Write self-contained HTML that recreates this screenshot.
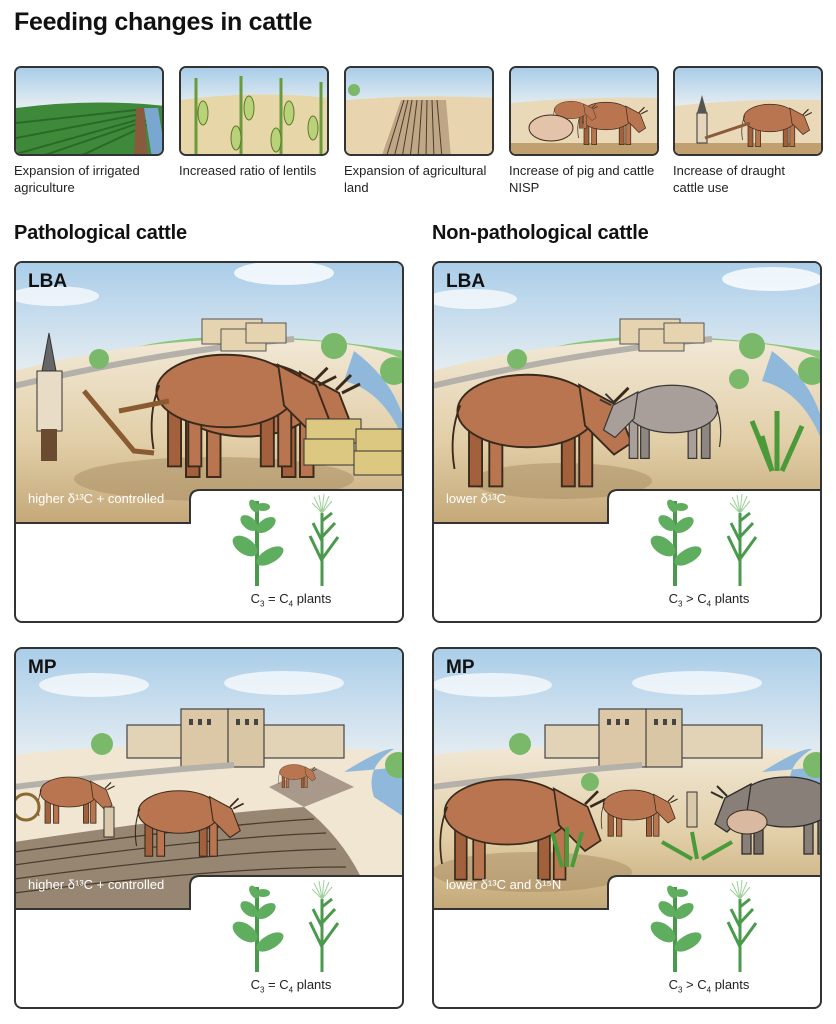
<!DOCTYPE html>
<html><head><meta charset="utf-8">
<style>
*{margin:0;padding:0;box-sizing:border-box}
body{width:836px;height:1024px;background:#fff;position:relative;font-family:"Liberation Sans",sans-serif;overflow:hidden;color:#111}
.abs{position:absolute}
h1{position:absolute;left:14px;top:8px;font-size:25px;font-weight:bold;letter-spacing:-0.3px}
h2{position:absolute;font-size:20px;font-weight:bold;top:222px;letter-spacing:-0.2px}
.th{position:absolute;top:66px;width:150px;height:90px;border:2px solid #333;border-radius:7px;overflow:hidden}
.cap{position:absolute;top:162px;font-size:13px;line-height:17px;color:#222;width:160px}
.pn{position:absolute;width:390px;border:2px solid #333;border-radius:8px;overflow:hidden;background:#fff}
.lab{position:absolute;left:12px;top:8px;font-size:19px;font-weight:bold}
.ml{position:absolute;left:12px;font-size:13px;color:#fff}
.pl{position:absolute;left:210px;width:130px;text-align:center;font-size:13px;color:#222}
.pl sub{font-size:8px}
</style></head><body>
<svg width="0" height="0" style="position:absolute">
<defs>
<linearGradient id="sky" x1="0" y1="0" x2="0" y2="1"><stop offset="0" stop-color="#a9cde9"/><stop offset="0.4" stop-color="#e2ebf1"/><stop offset="1" stop-color="#f2f2ee"/></linearGradient>
<linearGradient id="gr" x1="0" y1="0" x2="0" y2="1"><stop offset="0" stop-color="#f1e8d6"/><stop offset="0.55" stop-color="#e2cfa8"/><stop offset="1" stop-color="#c4a878"/></linearGradient>
<g id="cow" stroke="#3a2a1c" stroke-width="1.3">
<rect x="-40" y="6" width="9" height="46" fill="#a2613c"/><rect x="-26" y="6" width="9" height="46" fill="#b87550"/>
<rect x="24" y="6" width="9" height="46" fill="#a2613c"/><rect x="36" y="6" width="9" height="46" fill="#b87550"/>
<ellipse cx="0" cy="0" rx="48" ry="25" fill="#b87550"/>
<path d="M36,-18 L62,-4 L72,22 L60,30 L40,10Z" fill="#b87550"/>
<path d="M60,-6 l10,-10 M64,-4 l12,-6" stroke-width="2"/>
<path d="M-46,-4 q-8,20 -4,44" fill="none"/>
</g>
<g id="c3" stroke="none">
<rect x="-2" y="0" width="4" height="85" fill="#4a9a4c"/>
<ellipse cx="-12" cy="45" rx="14" ry="8" fill="#5fae5f" transform="rotate(35 -12 45)"/>
<ellipse cx="13" cy="55" rx="15" ry="7" fill="#5fae5f" transform="rotate(-30 13 55)"/>
<ellipse cx="-8" cy="22" rx="10" ry="6" fill="#5fae5f" transform="rotate(40 -8 22)"/>
<ellipse cx="9" cy="24" rx="11" ry="6" fill="#5fae5f" transform="rotate(-35 9 24)"/>
<ellipse cx="-3" cy="5" rx="7" ry="4" fill="#5fae5f" transform="rotate(60 -3 5)"/>
<ellipse cx="6" cy="6" rx="7" ry="4" fill="#5fae5f"/>
</g>
<g id="c4" stroke="#4a9a4c" fill="none">
<path d="M0,85 V12" stroke-width="3"/>
<path d="M0,60 L-12,35 M0,58 L16,36 M0,40 L-9,22 M0,36 L13,22 M0,20 L10,12" stroke-width="3"/>
<path d="M0,12 L-8,-4 M0,12 L-3,-6 M0,12 L2,-7 M0,12 L7,-5 M0,12 L10,0 M0,12 L-10,2" stroke="#9ccf9a" stroke-width="1"/>
</g>
</defs></svg>

<h1>Feeding changes in cattle</h1>

<div class="th" style="left:14px"><svg width="150" height="90"><rect width="150" height="90" fill="url(#sky)"/><path d="M0,40 Q75,30 150,38 V90 H0Z" fill="#3f8a3a"/><g stroke="#2a6a28" stroke-width="2"><path d="M0,55 L120,42 M0,70 L125,46 M0,86 L128,50 M20,90 L132,52 M60,90 L135,55"/></g><path d="M128,40 L142,40 L150,90 L136,90Z" fill="#7aa7cf"/><path d="M120,40 L128,40 L132,90 L118,90Z" fill="#8a5a3c"/></svg></div>
<div class="th" style="left:179px"><svg width="150" height="90"><rect width="150" height="90" fill="url(#sky)"/><path d="M0,32 Q75,22 150,30 V90 H0Z" fill="#e7d6a8"/><g stroke="#6a9a3a" stroke-width="3" fill="none"><path d="M15,90 V10 M60,90 V8 M100,90 V10 M140,90 V14"/></g><g fill="#b9d27a" stroke="#5a7a2a"><ellipse cx="22" cy="45" rx="5" ry="12"/><ellipse cx="68" cy="40" rx="5" ry="12"/><ellipse cx="55" cy="70" rx="5" ry="12"/><ellipse cx="108" cy="45" rx="5" ry="12"/><ellipse cx="95" cy="72" rx="5" ry="12"/><ellipse cx="132" cy="60" rx="5" ry="12"/></g></svg></div>
<div class="th" style="left:344px"><svg width="150" height="90"><rect width="150" height="90" fill="url(#sky)"/><path d="M0,32 Q75,26 150,30 V90 H0Z" fill="#e8d4ae"/><path d="M35,90 L55,32 L100,32 L105,90Z" fill="#bfa684"/><g stroke="#4a3a30" stroke-width="1"><path d="M40,90 L58,32 M48,90 L62,32 M56,90 L66,32 M64,90 L71,32 M72,90 L76,32 M80,90 L81,32 M88,90 L86,32 M96,90 L91,32"/></g><circle cx="8" cy="22" r="6" fill="#7cb86a"/></svg></div>
<div class="th" style="left:509px"><svg width="150" height="90"><rect width="150" height="90" fill="url(#sky)"/><path d="M0,35 Q75,28 150,30 V90 H0Z" fill="#ead9b8"/><rect y="75" width="150" height="15" fill="#c0a06e"/><use href="#cow" transform="translate(95,48) scale(0.55)"/><use href="#cow" transform="translate(60,42) scale(0.35)"/><ellipse cx="40" cy="60" rx="22" ry="13" fill="#e3c3aa" stroke="#3a2a1c"/></svg></div>
<div class="th" style="left:673px"><svg width="150" height="90"><rect width="150" height="90" fill="url(#sky)"/><path d="M0,38 Q75,30 150,32 V90 H0Z" fill="#ead9b8"/><rect y="75" width="150" height="15" fill="#c0a06e"/><use href="#cow" transform="translate(95,50) scale(0.55)"/><rect x="22" y="45" width="10" height="30" fill="#e5d5bb" stroke="#333"/><path d="M22,45 l5,-18 l5,18Z" fill="#555"/><path d="M30,70 L75,55" stroke="#8a5a3a" stroke-width="3"/></svg></div>

<div class="cap" style="left:14px">Expansion of irrigated<br>agriculture</div>
<div class="cap" style="left:179px">Increased ratio of lentils</div>
<div class="cap" style="left:344px">Expansion of agricultural<br>land</div>
<div class="cap" style="left:509px">Increase of pig and cattle<br>NISP</div>
<div class="cap" style="left:673px">Increase of draught<br>cattle use</div>

<h2 style="left:14px">Pathological cattle</h2>
<h2 style="left:432px">Non-pathological cattle</h2>

<div class="pn" style="left:14px;top:261px;height:362px">
<svg width="390" height="362" class="abs" style="left:-2px;top:-2px">
<clipPath id="k1"><path d="M0,0H390V229H186q-10,0 -10,10V262H0Z"/></clipPath>
<g clip-path="url(#k1)">
<rect width="390" height="262" fill="url(#sky)"/>
<ellipse cx="270" cy="12" rx="50" ry="12" fill="#fff" opacity=".8"/><ellipse cx="40" cy="35" rx="45" ry="10" fill="#fff" opacity=".7"/>
<path d="M100,92 Q200,60 390,90 V120 H100Z" fill="#8cc67e"/>
<path d="M0,110 Q150,70 300,80 Q370,85 390,100 V262 H0Z" fill="url(#gr)"/>
<path d="M0,125 Q150,90 280,78" stroke="#b4b0aa" stroke-width="6" fill="none"/>
<path d="M340,90 Q380,120 390,160 V180 Q370,130 330,120Z" fill="#8fb8da"/>
<g fill="#e6d3b0" stroke="#555"><rect x="188" y="58" width="60" height="25"/><rect x="207" y="68" width="45" height="22"/><rect x="232" y="62" width="40" height="20"/></g>
<circle cx="320" cy="85" r="13" fill="#7ab96a"/><circle cx="85" cy="98" r="10" fill="#7ab96a"/><circle cx="380" cy="110" r="14" fill="#7ab96a"/>
<ellipse cx="200" cy="218" rx="140" ry="22" fill="#a88b62" opacity=".5"/>
<use href="#cow" transform="translate(232,138) scale(1.5)"/>
<use href="#cow" transform="translate(212,130) scale(1.45)"/>
<g fill="#dcc880" stroke="#333"><rect x="292" y="158" width="55" height="24"/><rect x="342" y="168" width="46" height="28"/><rect x="290" y="178" width="50" height="26"/><rect x="340" y="190" width="48" height="24"/></g>
<path d="M70,130 L120,190 L140,192 M105,150 L155,140" stroke="#8a5a30" stroke-width="5" fill="none"/>
<rect x="23" y="110" width="25" height="60" fill="#e8dcc6" stroke="#333"/><path d="M28,110 L35,72 L42,110Z" fill="#666" stroke="#333"/><rect x="27" y="168" width="16" height="32" fill="#6a4a30"/>
</g>
<path d="M0,0H390V229H186q-10,0 -10,10V262H0Z" fill="none" stroke="#333" stroke-width="2"/>
<use href="#c3" transform="translate(243,240)"/><use href="#c4" transform="translate(308,240)"/>
</svg>
<div class="lab">LBA</div>
<div class="ml" style="top:228px">higher δ¹³C + controlled</div>
<div class="pl" style="top:328px">C<sub>3</sub> = C<sub>4</sub> plants</div>
</div>

<div class="pn" style="left:432px;top:261px;height:362px">
<svg width="390" height="362" class="abs" style="left:-2px;top:-2px">
<clipPath id="k2"><path d="M0,0H390V229H186q-10,0 -10,10V262H0Z"/></clipPath>
<g clip-path="url(#k2)">
<rect width="390" height="262" fill="url(#sky)"/>
<ellipse cx="340" cy="18" rx="50" ry="12" fill="#fff" opacity=".8"/><ellipse cx="40" cy="38" rx="45" ry="10" fill="#fff" opacity=".7"/>
<path d="M100,92 Q200,60 390,90 V120 H100Z" fill="#8cc67e"/>
<path d="M0,110 Q150,70 300,80 Q370,85 390,100 V262 H0Z" fill="url(#gr)"/>
<path d="M0,125 Q150,90 280,78" stroke="#b4b0aa" stroke-width="6" fill="none"/>
<path d="M340,90 Q380,120 390,160 V180 Q370,130 330,120Z" fill="#8fb8da"/>
<g fill="#e6d3b0" stroke="#555"><rect x="188" y="58" width="60" height="25"/><rect x="207" y="68" width="45" height="22"/><rect x="232" y="62" width="40" height="20"/></g>
<circle cx="320" cy="85" r="13" fill="#7ab96a"/><circle cx="85" cy="98" r="10" fill="#7ab96a"/><circle cx="380" cy="110" r="14" fill="#7ab96a"/><circle cx="307" cy="118" r="10" fill="#7ab96a"/>
<ellipse cx="130" cy="220" rx="90" ry="18" fill="#a88b62" opacity=".5"/>
<use href="#cow" transform="translate(95,150) scale(1.45)"/>
<use href="#cow" transform="translate(240,148) scale(-0.95,0.95)" style="filter:saturate(0.1) brightness(1.25)"/>
<path d="M340,210 L320,160 M345,210 L345,150 M350,210 L370,165 M340,210 L330,175" stroke="#4a9a3a" stroke-width="5"/>
</g>
<path d="M0,0H390V229H186q-10,0 -10,10V262H0Z" fill="none" stroke="#333" stroke-width="2"/>
<use href="#c3" transform="translate(243,240)"/><use href="#c4" transform="translate(308,240)"/>
</svg>
<div class="lab">LBA</div>
<div class="ml" style="top:228px">lower δ¹³C</div>
<div class="pl" style="top:328px">C<sub>3</sub> &gt; C<sub>4</sub> plants</div>
</div>

<div class="pn" style="left:14px;top:647px;height:362px">
<svg width="390" height="362" class="abs" style="left:-2px;top:-2px">
<clipPath id="k3"><path d="M0,0H390V229H186q-10,0 -10,10V262H0Z"/></clipPath>
<g clip-path="url(#k3)">
<rect width="390" height="262" fill="url(#sky)"/>
<ellipse cx="80" cy="38" rx="55" ry="12" fill="#fff" opacity=".7"/><ellipse cx="270" cy="36" rx="60" ry="12" fill="#fff" opacity=".7"/>
<path d="M0,108 Q150,90 390,105 V262 H0Z" fill="#f0e6d2"/>
<g stroke="#444" stroke-width="1.2"><rect x="113" y="78" width="217" height="33" fill="#e2d3b6"/><rect x="167" y="62" width="48" height="58" fill="#dcc8a6"/><rect x="214" y="62" width="36" height="58" fill="#d9c6a4"/></g>
<g fill="#444"><rect x="175" y="72" width="4" height="6"/><rect x="184" y="72" width="4" height="6"/><rect x="193" y="72" width="4" height="6"/><rect x="222" y="72" width="4" height="6"/><rect x="231" y="72" width="4" height="6"/><rect x="240" y="72" width="4" height="6"/></g>
<circle cx="88" cy="97" r="11" fill="#7ab96a"/>
<path d="M330,125 Q370,100 380,102 Q350,120 360,150 L390,170 V120Z" fill="#8fb8da"/><circle cx="384" cy="118" r="13" fill="#7ab96a"/>
<path d="M0,140 Q120,125 220,118" stroke="#b4b0aa" stroke-width="6" fill="none"/>
<path d="M255,140 L300,120 L340,140 L290,160Z" fill="#a8998a"/>
<path d="M0,195 Q200,165 290,160 Q340,200 360,262 H0Z" fill="#978672"/>
<g stroke="#4a3d30" stroke-width="1.3" fill="none"><path d="M0,205 Q200,178 300,172"/><path d="M0,218 Q200,190 312,186"/><path d="M0,232 Q210,204 322,202"/><path d="M0,246 Q210,220 332,220"/></g>
<use href="#cow" transform="translate(165,165) scale(0.85)"/>
<use href="#cow" transform="translate(55,145) scale(0.6)"/>
<use href="#cow" transform="translate(280,125) scale(0.3)"/>
<circle cx="12" cy="160" r="13" fill="none" stroke="#8a6a30" stroke-width="3"/>
<rect x="90" y="160" width="10" height="30" fill="#d9c9a9" stroke="#333"/>
</g>
<path d="M0,0H390V229H186q-10,0 -10,10V262H0Z" fill="none" stroke="#333" stroke-width="2"/>
<use href="#c3" transform="translate(243,240)"/><use href="#c4" transform="translate(308,240)"/>
</svg>
<div class="lab">MP</div>
<div class="ml" style="top:228px">higher δ¹³C + controlled</div>
<div class="pl" style="top:328px">C<sub>3</sub> = C<sub>4</sub> plants</div>
</div>

<div class="pn" style="left:432px;top:647px;height:362px">
<svg width="390" height="362" class="abs" style="left:-2px;top:-2px">
<clipPath id="k4"><path d="M0,0H390V229H186q-10,0 -10,10V262H0Z"/></clipPath>
<g clip-path="url(#k4)">
<rect width="390" height="262" fill="url(#sky)"/>
<ellipse cx="60" cy="38" rx="60" ry="12" fill="#fff" opacity=".7"/><ellipse cx="265" cy="36" rx="65" ry="12" fill="#fff" opacity=".7"/>
<path d="M0,108 Q150,90 390,105 V262 H0Z" fill="url(#gr)"/>
<g stroke="#444" stroke-width="1.2"><rect x="113" y="78" width="217" height="33" fill="#e2d3b6"/><rect x="167" y="62" width="48" height="58" fill="#dcc8a6"/><rect x="214" y="62" width="36" height="58" fill="#d9c6a4"/></g>
<g fill="#444"><rect x="175" y="72" width="4" height="6"/><rect x="184" y="72" width="4" height="6"/><rect x="193" y="72" width="4" height="6"/><rect x="222" y="72" width="4" height="6"/><rect x="231" y="72" width="4" height="6"/><rect x="240" y="72" width="4" height="6"/></g>
<circle cx="88" cy="97" r="11" fill="#7ab96a"/><circle cx="158" cy="135" r="9" fill="#7ab96a"/>
<path d="M330,125 Q370,100 380,102 Q350,120 360,150 L390,170 V120Z" fill="#8fb8da"/><circle cx="384" cy="118" r="13" fill="#7ab96a"/>
<path d="M0,140 Q120,125 210,118" stroke="#b4b0aa" stroke-width="6" fill="none"/>
<ellipse cx="100" cy="225" rx="100" ry="20" fill="#a88b62" opacity=".5"/>
<use href="#cow" transform="translate(75,165) scale(1.3)"/>
<use href="#cow" transform="translate(200,158) scale(0.6)"/>
<use href="#cow" transform="translate(355,155) scale(-1,1)" style="filter:saturate(0.15)"/>
<ellipse cx="315" cy="175" rx="20" ry="12" fill="#d9b9a0" stroke="#3a2a1c"/>
<rect x="255" y="145" width="10" height="35" fill="#d9c9a9" stroke="#333"/>
<path d="M130,220 L120,185 M135,220 L135,180 M140,220 L150,185 M260,212 L230,195 M265,212 L260,185 M270,212 L300,195" stroke="#4a9a3a" stroke-width="4"/>
</g>
<path d="M0,0H390V229H186q-10,0 -10,10V262H0Z" fill="none" stroke="#333" stroke-width="2"/>
<use href="#c3" transform="translate(243,240)"/><use href="#c4" transform="translate(308,240)"/>
</svg>
<div class="lab">MP</div>
<div class="ml" style="top:228px">lower δ¹³C and δ¹⁵N</div>
<div class="pl" style="top:328px">C<sub>3</sub> &gt; C<sub>4</sub> plants</div>
</div>
</body></html>
